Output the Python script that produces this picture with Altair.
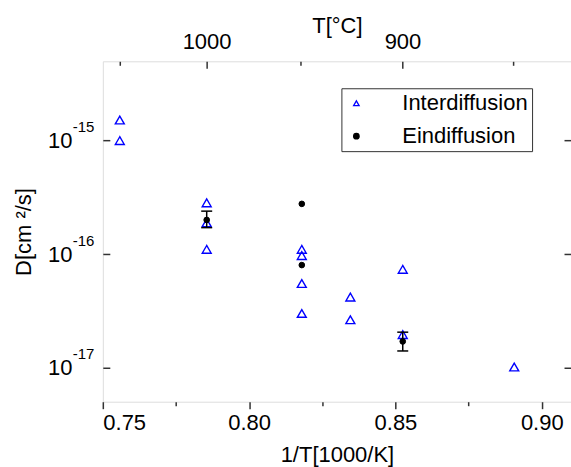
import altair as alt
import pandas as pd

# ---------------- data ----------------
series_names = ["Interdiffusion", "Eindiffusion"]

inter_x = [0.7558, 0.7558, 0.7855, 0.7855, 0.7855, 0.8180, 0.8180, 0.8180, 0.8180,
           0.8346, 0.8346, 0.8525, 0.8525, 0.8906]
inter_y = [1.52e-15, 1.00e-15, 2.83e-16, 1.89e-16, 1.10e-16, 1.10e-16, 9.7e-17, 5.5e-17,
           3.0e-17, 4.18e-17, 2.64e-17, 7.33e-17, 1.95e-17, 1.01e-17]

ein_x = [0.7855, 0.8180, 0.8180, 0.8525]
ein_y = [2.00e-16, 2.77e-16, 8.0e-17, 1.70e-17]

err_x = [0.7855, 0.8525]
err_lo = [1.71e-16, 1.40e-17]
err_hi = [2.39e-16, 2.05e-17]

x_major = [0.75, 0.80, 0.85, 0.90]
x_minor = [0.775, 0.825, 0.875]
y_major = [1e-17, 1e-16, 1e-15]
top_major_c = [1000, 900]
top_minor_c = [1050, 950, 850]

# ---------------- tables ----------------
tri = pd.DataFrame({"x": inter_x, "y": inter_y, "series": [series_names[0]] * len(inter_x)})
dots = pd.DataFrame({"x": ein_x, "y": ein_y, "series": [series_names[1]] * len(ein_x)})
err = pd.DataFrame({"x": err_x, "lo": err_lo, "hi": err_hi})

top_major_v = [1000.0 / (c + 273.15) for c in top_major_c]
top_minor_v = [1000.0 / (c + 273.15) for c in top_minor_c]

FONT = "Liberation Sans"
LINE = "#333333"

xs = alt.Scale(domain=[0.75, 0.91], zero=False, nice=False)
ys = alt.Scale(type="log", domain=[5e-18, 5e-15], nice=False)


def ax(**kw):
    base = dict(domain=False, grid=False, tickColor=LINE, tickWidth=1.5,
                labelColor="black", titleColor="black", labelFont=FONT,
                titleFont=FONT, titleFontWeight="normal", title=None)
    base.update(kw)
    return alt.Axis(**base)


x_bottom_major = ax(orient="bottom", values=x_major, format=".2f", tickSize=7,
                    labelFontSize=22, labelPadding=4, title="1/T[1000/K]",
                    titleFontSize=22, titlePadding=11)
x_bottom_minor = ax(orient="bottom", values=x_minor, tickSize=4, labels=False)
x_top_major = ax(orient="top", values=top_major_v, tickSize=7, offset=-7,
                 labelExpr="format(1000/datum.value - 273.15, '.0f')",
                 labelFontSize=22, labelPadding=8, title="T[°C]",
                 titleFontSize=22, titlePadding=-7)
x_top_minor = ax(orient="top", values=top_minor_v, tickSize=4, offset=-4, labels=False)

y_left_base = ax(orient="left", values=y_major, ticks=False, tickSize=0,
                 labelExpr="'10'", labelFontSize=22, labelPadding=31,
                 labelBaseline="middle", title="D[cm ²/s]", titleFontSize=22,
                 titlePadding=12)
y_left_exp = ax(orient="left", values=y_major, ticks=False, tickSize=0,
                labelExpr="'' + round(log(datum.value) / LN10)",
                labelFontSize=15, labelPadding=9, labelBaseline="middle",
                labelOffset=-14)
y_left_ticks = ax(orient="left", values=y_major, tickSize=7, offset=-7, labels=False)
y_right_ticks = ax(orient="right", values=y_major, tickSize=7, offset=-7, labels=False)

legend = alt.Legend(title=None, orient="none", legendX=239, legendY=27,
                    padding=4, rowPadding=11, symbolOffset=0, labelOffset=35,
                    symbolSize=30, symbolStrokeWidth=1.3, labelFontSize=22,
                    labelFont=FONT, labelColor="black", strokeColor=LINE,
                    fillColor="white")

stroke_enc = alt.Stroke("series:N", scale=alt.Scale(domain=series_names, range=["#0000ff", "#000000"]), legend=legend)
fill_enc = alt.Fill("series:N", scale=alt.Scale(domain=series_names, range=["transparent", "#000000"]), legend=legend)
shape_enc = alt.Shape("series:N", scale=alt.Scale(domain=series_names, range=["triangle-up", "circle"]), legend=legend)

tri_layer = alt.Chart(tri).mark_point(opacity=1, strokeWidth=1.4, size=80).encode(
    x=alt.X("x:Q", scale=xs, axis=x_bottom_major),
    y=alt.Y("y:Q", scale=ys, axis=y_left_base),
    stroke=stroke_enc, fill=fill_enc, shape=shape_enc,
)

rule = alt.Chart(err).mark_rule(color="black", strokeWidth=1.5).encode(
    x=alt.X("x:Q", scale=xs, axis=x_bottom_minor),
    y=alt.Y("lo:Q", scale=ys, axis=y_left_ticks),
    y2="hi:Q",
)

cap_hi = alt.Chart(err).mark_tick(color="black", orient="horizontal", size=11,
                                  thickness=1.5, opacity=1).encode(
    x=alt.X("x:Q", scale=xs, axis=x_top_major),
    y=alt.Y("hi:Q", scale=ys, axis=y_right_ticks),
)

cap_lo = alt.Chart(err).mark_tick(color="black", orient="horizontal", size=11,
                                  thickness=1.5, opacity=1).encode(
    x=alt.X("x:Q", scale=xs, axis=x_top_minor),
    y=alt.Y("lo:Q", scale=ys, axis=y_left_exp),
)

dot_layer = alt.Chart(dots).mark_point(opacity=1, strokeWidth=1, size=32).encode(
    x=alt.X("x:Q", scale=xs, axis=None),
    y=alt.Y("y:Q", scale=ys, axis=None),
    stroke=stroke_enc, fill=fill_enc, shape=shape_enc,
)

chart = (
    alt.layer(tri_layer, rule, cap_hi, cap_lo, dot_layer)
    .resolve_scale(x="shared", y="shared")
    .resolve_axis(x="independent", y="independent")
    .properties(width=469, height=341,
                autosize=alt.AutoSizeParams(type="none"),
                padding={"left": 103, "top": 61, "right": 0, "bottom": 65},
                background="white")
    .configure_view(stroke=LINE, strokeWidth=1.5)
    .configure(font=FONT)
)

chart.save("out.html", embed_options={"renderer": "svg", "actions": False})
